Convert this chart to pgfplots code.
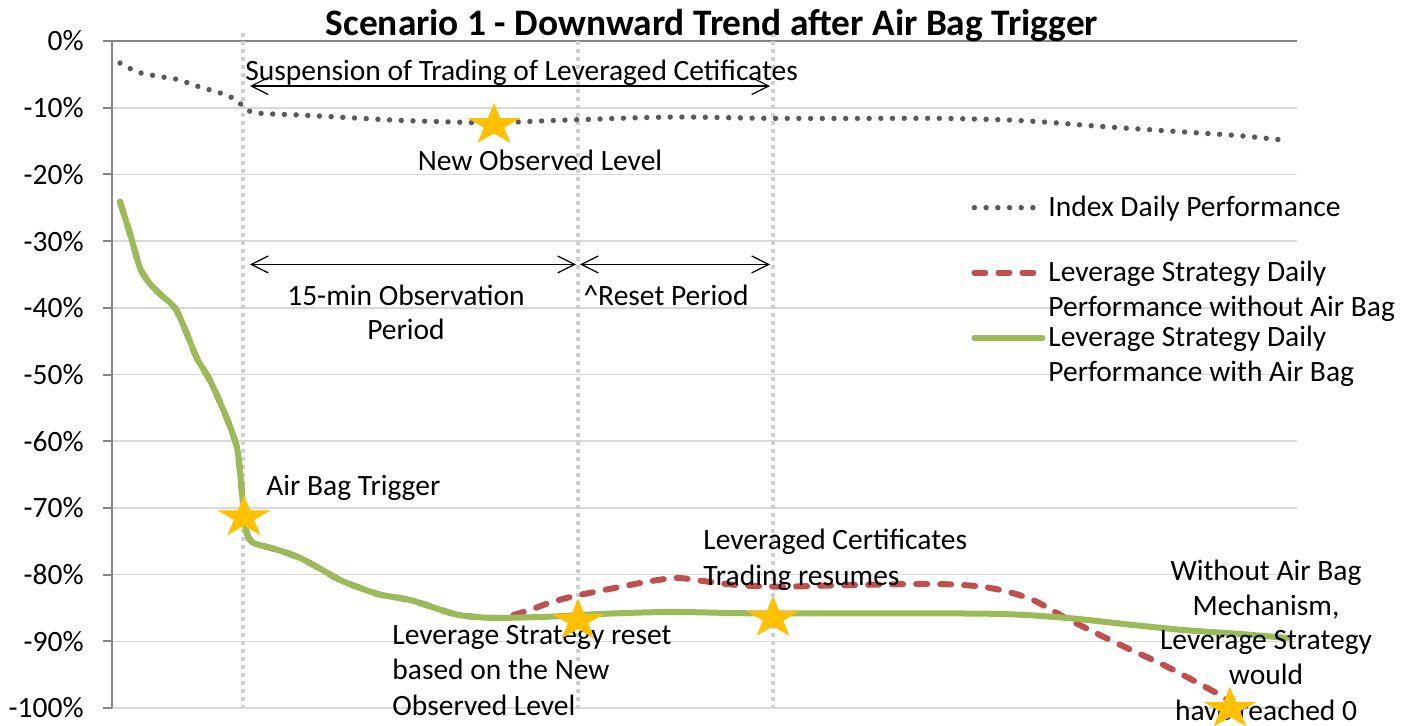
\documentclass[border=0pt]{standalone}
\usepackage{fontspec}
\setmainfont{Carlito}
\usepackage{pgfplots}
\pgfplotsset{compat=1.18}
\usetikzlibrary{arrows.meta}

\definecolor{idxgray}{HTML}{595959}
\definecolor{noairbag}{HTML}{C0504D}
\definecolor{airbag}{HTML}{9BBB59}
\definecolor{stargold}{HTML}{FFC000}
\definecolor{gridgray}{HTML}{D9D9D9}
\definecolor{axisgray}{HTML}{868686}
\definecolor{vlinegray}{HTML}{D0D0D0}

\newcommand{\lbl}{\fontsize{14.75}{17.5}\selectfont}

% filled five-point star, a little wider than high (as drawn in the original)
\pgfdeclareplotmark{gstar}{%
  \pgfpathmoveto{\pgfqpoint{0pt}{11pt}}%
  \pgfpathlineto{\pgfqpoint{-3.14pt}{3.40pt}}%
  \pgfpathlineto{\pgfqpoint{-13.29pt}{3.40pt}}%
  \pgfpathlineto{\pgfqpoint{-5.07pt}{-1.30pt}}%
  \pgfpathlineto{\pgfqpoint{-8.21pt}{-8.90pt}}%
  \pgfpathlineto{\pgfqpoint{0pt}{-4.20pt}}%
  \pgfpathlineto{\pgfqpoint{8.21pt}{-8.90pt}}%
  \pgfpathlineto{\pgfqpoint{5.07pt}{-1.30pt}}%
  \pgfpathlineto{\pgfqpoint{13.29pt}{3.40pt}}%
  \pgfpathlineto{\pgfqpoint{3.14pt}{3.40pt}}%
  \pgfpathclose
  \pgfusepathqfill}

\tikzset{
  span/.style={{Straight Barb[length=8.5pt,width=8.5pt]}-{Straight Barb[length=8.5pt,width=8.5pt]}, line width=0.6pt},
  note/.style={font=\lbl, inner sep=0pt},
}

\begin{document}
\begin{tikzpicture}
\path[use as bounding box] (-56pt,-8.5pt) rectangle (650.5pt,354pt);
\begin{axis}[
  at={(0pt,0pt)}, anchor=south west,
  scale only axis, width=592.5pt, height=333.5pt,
  xmin=112, xmax=1297, ymin=-100, ymax=0,
  clip=false,
  axis x line*=top, axis y line*=left,
  x axis line style={draw=axisgray, line width=1pt},
  y axis line style={draw=axisgray, line width=1pt},
  xtick=\empty,
  ytick={-100,-90,...,0},
  yticklabels={-100\%,-90\%,-80\%,-70\%,-60\%,-50\%,-40\%,-30\%,-20\%,-10\%,0\%},
  tick align=outside, major tick length=4.5pt,
  ytick style={draw=axisgray, line width=1pt},
  ymajorgrids, grid style={draw=gridgray, line width=0.8pt},
  yticklabel style={font=\lbl, inner sep=0pt, xshift=-9.5pt},
  legend cell align=left,
  legend style={at={(0.7249,0.7792)}, anchor=north west, draw=none, fill=none,
    inner sep=0pt, row sep=13.5pt, column sep=1.5pt,
    nodes={inner sep=0pt, text height=14pt, text depth=5pt, font=\lbl}},
  legend image code/.code={\draw[#1] (0pt,0pt) -- (34pt,0pt);},
]
% vertical markers of the periods
\draw[vlinegray, line width=2pt, dash pattern=on 2pt off 2pt] (axis cs:243,1.2) -- (axis cs:243,-100);
\draw[vlinegray, line width=2pt, dash pattern=on 2pt off 2pt] (axis cs:578,1.2) -- (axis cs:578,-100);
\draw[vlinegray, line width=2pt, dash pattern=on 2pt off 2pt] (axis cs:773,1.2) -- (axis cs:773,-100);

\addplot[idxgray, line width=2.7pt, line cap=round, dash pattern=on 0pt off 5.85pt, smooth] coordinates {
(120,-3.3)(131,-4.2)(143,-4.9)(155,-5.2)(167,-5.5)(179,-5.8)(190,-6.4)(202,-7.0)
(214,-7.5)(226,-8.1)(237,-8.9)(245,-10.1)(257,-10.8)(300,-11.1)(350,-11.5)(400,-11.9)
(465,-12.2)(494,-12.3)(523,-12.1)(577,-11.8)(673,-11.4)(773,-11.6)(880,-11.6)(940,-11.6)
(1000,-11.8)(1040,-12.1)(1100,-12.8)(1140,-13.2)(1190,-13.7)(1240,-14.2)(1286,-14.9)};
\addlegendentry{Index Daily Performance}

\addplot[noairbag, line width=3pt, line cap=round, dash pattern=on 5.5pt off 6.5pt, smooth] coordinates {
(120,-24.1)(130,-28.9)(140,-34.0)(150,-36.4)(162,-38.2)(172,-39.5)(178,-40.8)(188,-44.3)
(197,-47.6)(210,-50.9)(223,-55.2)(232,-58.6)(237,-61.0)(240,-64.5)(242,-67.8)(244,-71.1)
(246,-73.3)(249,-74.6)(254,-75.3)(263,-75.7)(280,-76.4)(300,-77.5)(320,-79.1)(340,-80.8)
(360,-82.0)(380,-83.0)(410,-83.8)(435,-85.0)(457,-86.0)(480,-86.4)(500,-86.5)
(510,-86.2)(530,-85.3)(550,-84.2)(575,-83.2)(618,-81.9)(650,-81.0)(677,-80.5)(705,-81.0)
(740,-81.6)(783,-81.8)(841,-81.6)(930,-81.4)(975,-81.7)(1003,-82.4)(1033,-83.8)(1067,-86.6)
(1117,-90.3)(1167,-93.8)(1217,-97.8)(1228,-98.9)};
\addlegendentry{\begin{tabular}[t]{@{}l@{}}Leverage Strategy Daily\\Performance without Air Bag\end{tabular}}

\addplot[airbag, line width=3pt, line cap=round, line join=round, smooth] coordinates {
(120,-24.1)(130,-28.9)(140,-34.0)(150,-36.4)(162,-38.2)(172,-39.5)(178,-40.8)(188,-44.3)
(197,-47.6)(210,-50.9)(223,-55.2)(232,-58.6)(237,-61.0)(240,-64.5)(242,-67.8)(244,-71.1)
(246,-73.3)(249,-74.6)(254,-75.3)(263,-75.7)(280,-76.4)(300,-77.5)(320,-79.1)(340,-80.8)
(360,-82.0)(380,-83.0)(410,-83.8)(435,-85.0)(457,-86.0)(480,-86.4)(500,-86.5)(550,-86.3)
(600,-85.9)(671,-85.6)(752,-85.8)(886,-85.8)(1000,-85.9)(1067,-86.5)(1130,-87.5)(1183,-88.3)
(1240,-88.9)(1287,-89.5)};
\addlegendentry{\begin{tabular}[t]{@{}l@{}}Leverage Strategy Daily\\Performance with Air Bag\end{tabular}}

% event stars
\addplot[only marks, mark=gstar, color=stargold, forget plot] coordinates {
(244,-71.4)(494,-12.6)(578,-86.9)(773,-86.5)(1230,-100.1)};

% annotations
\node[font=\fontsize{18.7}{21}\selectfont\bfseries, inner sep=0pt, anchor=base] at (axis cs:712,0.75) {Scenario 1 - Downward Trend after Air Bag Trigger};
\node[note, anchor=base west] at (axis cs:245,-5.85) {Suspension of Trading of Leveraged Cetificates};
\draw[span] (axis cs:250,-6.75) -- (axis cs:770,-6.75);
\node[note, anchor=base] at (axis cs:540,-19.42) {New Observed Level};
\draw[span] (axis cs:250,-33.5) -- (axis cs:576,-33.5);
\draw[span] (axis cs:580,-33.5) -- (axis cs:770,-33.5);
\node[note, anchor=base] at (axis cs:406,-39.6) {15-min Observation};
\node[note, anchor=base] at (axis cs:406,-44.7) {Period};
\node[note, anchor=base] at (axis cs:666,-39.6) {\textasciicircum Reset Period};
\node[note, anchor=base west] at (axis cs:266,-68.07) {Air Bag Trigger};
\node[note, anchor=base west] at (axis cs:703,-76.3) {Leveraged Certificates};
\node[note, anchor=base west] at (axis cs:703,-81.56) {Trading resumes};
\node[note, anchor=base west] at (axis cs:392,-90.55) {Leverage Strategy reset};
\node[note, anchor=base west] at (axis cs:392,-95.8) {based on the New};
\node[note, anchor=base west] at (axis cs:392,-101.05) {Observed Level};
\node[note, anchor=base] at (axis cs:1266,-80.81) {Without Air Bag};
\node[note, anchor=base] at (axis cs:1266,-86.06) {Mechanism,};
\node[note, anchor=base] at (axis cs:1266,-91.30) {Leverage Strategy};
\node[note, anchor=base] at (axis cs:1266,-96.55) {would};
\node[note, anchor=base] at (axis cs:1266,-101.80) {have reached 0};
\end{axis}
\end{tikzpicture}
\end{document}
